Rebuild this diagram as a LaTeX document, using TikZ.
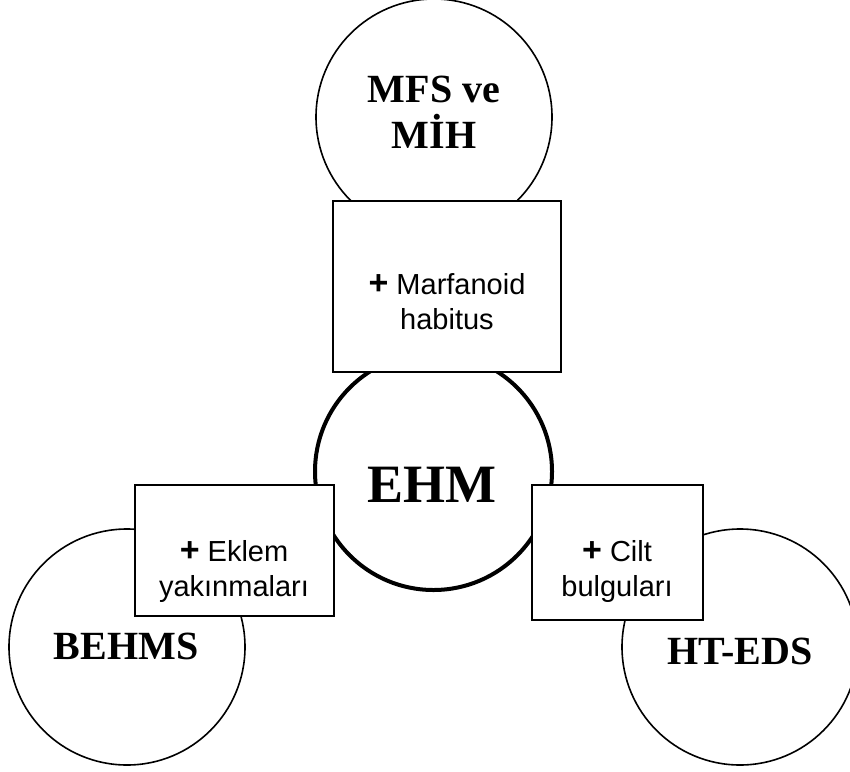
\documentclass[tikz,border=0pt]{standalone}
\usepackage{fontspec}
\setmainfont{Liberation Serif}
\newfontfamily\boxfont{Liberation Sans}
\newcommand{\plussign}{{\bfseries\fontsize{34}{35}\selectfont+}}

\begin{document}
\begin{tikzpicture}[x=1pt, y=-1pt,
    group/.style={draw, circle, line width=1.6pt, inner sep=0pt, minimum size=236pt},
    core/.style={group, line width=4pt, minimum size=237pt},
    title/.style={font=\bfseries\fontsize{40}{46}\selectfont, align=center},
    extra/.style={draw, fill=white, line width=1.6pt, inner sep=0pt},
    extratext/.style={font=\boxfont\fontsize{29}{35}\selectfont, align=center}]
        \useasboundingbox (0,0) rectangle (850,771);
        \clip (0,0) rectangle (850,771);

        % Draw the circles
        \node[group] (mfs) at (434,117) {};
        \node[group] (behms) at (127,647) {};
        \node[group] (hteds) at (740,647) {};
        \node[core] (ehm) at (433.5,471.5) {};

        % Label the circles
        \node[title] (mfstext) at (434,112) {MFS ve\\MİH};
        \node[title] (behmstext) at (126,646) {BEHMS};
        \node[title] (htedstext) at (740,651) {HT-EDS};
        \node[title, font=\bfseries\fontsize{54}{60}\selectfont] (ehmtext) at (432,485) {EHM};

        % Draw the boxes
        \node[extra, minimum width=228pt, minimum height=171pt] (marfanoid) at (447,286.5) {};
        \node[extra, minimum width=199pt, minimum height=131pt] (eklem) at (234.5,550.5) {};
        \node[extra, minimum width=171pt, minimum height=135pt] (cilt) at (617.5,552.5) {};

        % Label the boxes
        \node[extratext] (marfanoidtext) at (447,302) {\plussign{} Marfanoid\\habitus};
        \node[extratext] (eklemtext) at (234,571) {\plussign{} Eklem\\yakınmaları};
        \node[extratext] (cilttext) at (617,571) {\plussign{} Cilt\\bulguları};
    \end{tikzpicture}
\end{document}
